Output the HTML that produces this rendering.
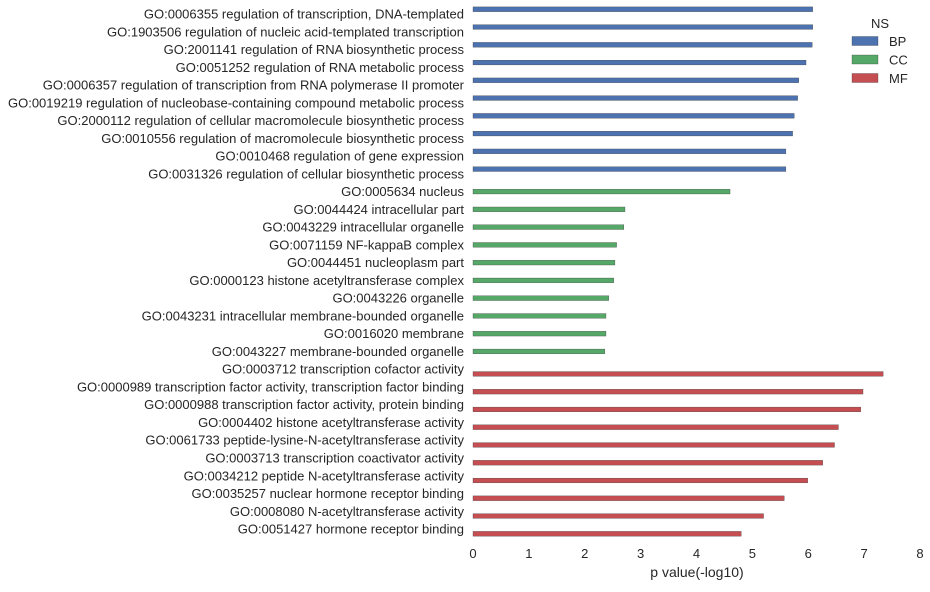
<!DOCTYPE html>
<html><head><meta charset="utf-8"><style>
body{margin:0;background:#fff;}
svg text{font-family:"Liberation Sans",Arial,sans-serif;fill:#262626;}
</style></head><body>
<svg id="chart" width="930" height="587" viewBox="0 0 930 587" xmlns="http://www.w3.org/2000/svg"></svg>
<script>
const categories=["GO:0006355 regulation of transcription, DNA-templated","GO:1903506 regulation of nucleic acid-templated transcription","GO:2001141 regulation of RNA biosynthetic process","GO:0051252 regulation of RNA metabolic process","GO:0006357 regulation of transcription from RNA polymerase II promoter","GO:0019219 regulation of nucleobase-containing compound metabolic process","GO:2000112 regulation of cellular macromolecule biosynthetic process","GO:0010556 regulation of macromolecule biosynthetic process","GO:0010468 regulation of gene expression","GO:0031326 regulation of cellular biosynthetic process","GO:0005634 nucleus","GO:0044424 intracellular part","GO:0043229 intracellular organelle","GO:0071159 NF-kappaB complex","GO:0044451 nucleoplasm part","GO:0000123 histone acetyltransferase complex","GO:0043226 organelle","GO:0043231 intracellular membrane-bounded organelle","GO:0016020 membrane","GO:0043227 membrane-bounded organelle","GO:0003712 transcription cofactor activity","GO:0000989 transcription factor activity, transcription factor binding","GO:0000988 transcription factor activity, protein binding","GO:0004402 histone acetyltransferase activity","GO:0061733 peptide-lysine-N-acetyltransferase activity","GO:0003713 transcription coactivator activity","GO:0034212 peptide N-acetyltransferase activity","GO:0035257 nuclear hormone receptor binding","GO:0008080 N-acetyltransferase activity","GO:0051427 hormone receptor binding"];
const values=[6.08,6.08,6.07,5.96,5.83,5.81,5.75,5.72,5.6,5.6,4.6,2.72,2.7,2.57,2.54,2.52,2.43,2.38,2.38,2.36,7.34,6.98,6.94,6.54,6.47,6.26,5.99,5.57,5.2,4.8];
const groups=["BP","BP","BP","BP","BP","BP","BP","BP","BP","BP","CC","CC","CC","CC","CC","CC","CC","CC","CC","CC","MF","MF","MF","MF","MF","MF","MF","MF","MF","MF"];
const hueLevels=["BP","CC","MF"];
const xTicks=[0,1,2,3,4,5,6,7,8];
const colors={BP:"#4c72b0",CC:"#55a868",MF:"#c44e52"};
const svg=document.getElementById('chart');
const NS="http://www.w3.org/2000/svg";
const x0=473,x1=920,xMax=8;
const xs=v=>x0+(x1-x0)*v/xMax;
const rowTop=14,pitch=17.76;
const yc=i=>rowTop+pitch*i;
const hueW=pitch*0.8/3;
function mk(t,a){const e=document.createElementNS(NS,t);for(const k in a)e.setAttribute(k,a[k]);svg.appendChild(e);return e;}
categories.forEach((c,i)=>{
  const t=mk('text',{x:464,y:yc(i)+4.5,'text-anchor':'end','font-size':13});
  t.textContent=c;
  
  
  const h=hueLevels.indexOf(groups[i])-1;
  const r=mk('rect',{x:x0,y:yc(i)+h*hueW-hueW/2,width:xs(values[i])-x0,height:hueW,fill:colors[groups[i]],stroke:'#333','stroke-width':0.3});
  
  
});
xTicks.forEach(v=>{
  const t=mk('text',{x:xs(v),y:558,'text-anchor':'middle','font-size':13});
  t.textContent=v;
  
  
});
const xl=mk('text',{x:697,y:577,'text-anchor':'middle','font-size':14});
xl.textContent='p value(-log10)';


const lt=mk('text',{x:880,y:28,'text-anchor':'middle','font-size':13});
lt.textContent='NS';


hueLevels.forEach((h,k)=>{
  const y=41+k*18.5;
  const p=mk('rect',{x:852,y:y-4.5,width:26,height:9,fill:colors[h],stroke:'#333','stroke-width':0.3});
  
  
  const t=mk('text',{x:889,y:y+5,'font-size':13});
  t.textContent=h;
  
  
});
</script>
</body></html>
